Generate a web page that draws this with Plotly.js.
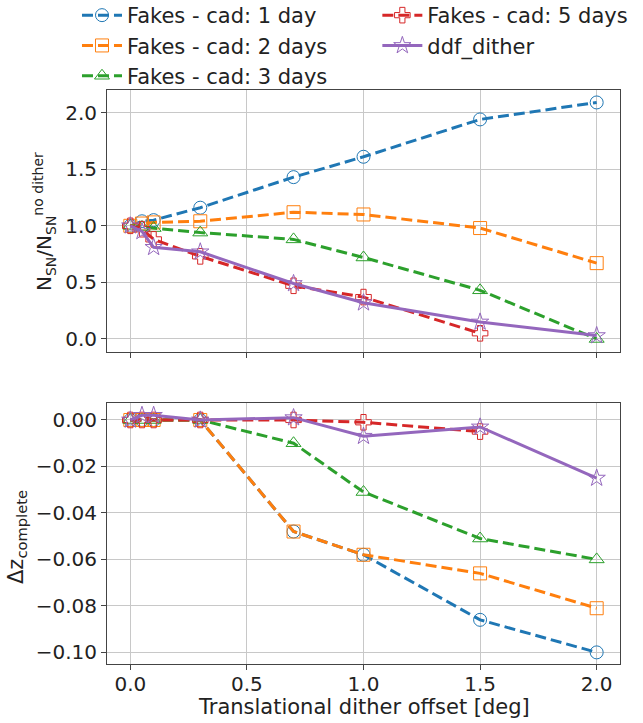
<!DOCTYPE html>
<html>
<head>
<meta charset="utf-8">
<script src="https://cdn.plot.ly/plotly-3.0.1.min.js"></script>
<style>html,body{margin:0;padding:0;background:#fff;}</style>
</head>
<body>
<div id="chart" style="width:643px;height:723px;"></div>
<script>
// Dither offsets [deg]
const xOffsets = [0.0, 0.05, 0.1, 0.3, 0.7, 1.0, 1.5, 2.0];
const xOffsets5 = [0.0, 0.05, 0.1, 0.3, 0.7, 1.0, 1.5];

// Top panel: N_SN / N_SN(no dither)
const nsnCad1 = [1.0, 1.04, 1.05, 1.16, 1.43, 1.61, 1.94, 2.09];
const nsnCad2 = [1.0, 1.02, 1.03, 1.04, 1.12, 1.10, 0.98, 0.67];
const nsnCad3 = [1.0, 0.99, 0.98, 0.94, 0.88, 0.72, 0.43, 0.0];
const nsnCad5 = [1.0, 0.97, 0.88, 0.73, 0.47, 0.37, 0.05];
const nsnDdf  = [1.0, 0.95, 0.81, 0.77, 0.49, 0.32, 0.15, 0.03];

// Bottom panel: Delta z_complete
const dzCad1 = [0.0, 0.0, 0.0, 0.0, -0.048, -0.058, -0.086, -0.100];
const dzCad2 = [0.0, 0.0, 0.0, 0.0, -0.048, -0.058, -0.066, -0.081];
const dzCad3 = [0.0, 0.0, 0.0, 0.0, -0.010, -0.031, -0.051, -0.060];
const dzCad5 = [0.0, 0.0, 0.0, 0.0, 0.0, -0.001, -0.005];
const dzDdf  = [0.0, 0.002, 0.002, 0.0, 0.001, -0.007, -0.003, -0.025];

const names = ["Fakes - cad: 1 day", "Fakes - cad: 2 days", "Fakes - cad: 3 days", "Fakes - cad: 5 days", "ddf_dither"];
const topTickVals = [0.0, 0.5, 1.0, 1.5, 2.0];
const botTickVals = [-0.10, -0.08, -0.06, -0.04, -0.02, 0.0];
const xTickVals = [0.0, 0.5, 1.0, 1.5, 2.0];
const xTitle = "Translational dither offset [deg]";
const topYTitle = "N<sub>SN</sub>/N<sub>SN</sub><sup>no dither</sup>";
const botYTitle = "Δz<sub>complete</sub>";

const colors = ["#1f77b4", "#ff7f0e", "#2ca02c", "#d62728", "#9467bd"];
const symbols = ["circle-open", "square-open", "triangle-up-open", "cross-open", "star-open"];
const dashes = ["11px,5px", "11px,5px", "11px,5px", "11px,5px", "solid"];
const legends = ["legend", "legend", "legend", "legend2", "legend2"];

const topY = [nsnCad1, nsnCad2, nsnCad3, nsnCad5, nsnDdf];
const botY = [dzCad1, dzCad2, dzCad3, dzCad5, dzDdf];
const xs = [xOffsets, xOffsets, xOffsets, xOffsets5, xOffsets];

const traces = [];
for (let i = 0; i < 5; i++) {
  traces.push({
    x: xs[i], y: topY[i], name: names[i], type: "scatter", mode: "lines+markers",
    xaxis: "x2", yaxis: "y2", legend: legends[i],
    line: {color: colors[i], width: 3, dash: dashes[i]},
    marker: {symbol: symbols[i], size: 13, color: colors[i], line: {width: 1, color: colors[i]}}
  });
}
for (let i = 0; i < 5; i++) {
  traces.push({
    x: xs[i], y: botY[i], name: names[i], type: "scatter", mode: "lines+markers",
    xaxis: "x", yaxis: "y", showlegend: false,
    line: {color: colors[i], width: 3, dash: dashes[i]},
    marker: {symbol: symbols[i], size: 13, color: colors[i], line: {width: 1, color: colors[i]}}
  });
}

const axCommon = {
  showline: true, mirror: true, linecolor: "#444", linewidth: 1,
  showgrid: true, gridcolor: "#c8c8c8", gridwidth: 1,
  ticks: "outside", ticklen: 5, tickcolor: "#444", tickwidth: 1,
  zeroline: false, tickfont: {size: 20, color: "#222"}
};

const legCommon = {
  orientation: "v", bgcolor: "rgba(0,0,0,0)", font: {size: 21, color: "#222"},
  itemwidth: 40, tracegroupgap: 0, xref: "paper", yref: "paper",
  xanchor: "left", yanchor: "top", y: 1.1655
};

const layout = {
  width: 643, height: 723,
  margin: {l: 107, r: 23, t: 90, b: 59, autoexpand: false},
  paper_bgcolor: "#fff", plot_bgcolor: "#fff",
  font: {family: "DejaVu Sans, sans-serif", size: 20, color: "#222"},
  xaxis: Object.assign({}, axCommon, {
    anchor: "y", range: [-0.1, 2.1], tickvals: xTickVals, tickformat: ".1f", ticklabelstandoff: -3
  }),
  xaxis2: Object.assign({}, axCommon, {
    anchor: "y2", range: [-0.1, 2.1], tickvals: xTickVals, showticklabels: false, matches: "x"
  }),
  yaxis: Object.assign({}, axCommon, {
    domain: [0, 0.4547], range: [-0.105, 0.0073], tickvals: botTickVals, tickformat: ".2f"
  }),
  yaxis2: Object.assign({}, axCommon, {
    domain: [0.5436, 1], range: [-0.115, 2.2], tickvals: topTickVals, tickformat: ".1f"
  }),
  legend: Object.assign({}, legCommon, {x: -0.0585}),
  legend2: Object.assign({}, legCommon, {x: 0.527}),
  annotations: [
    {text: xTitle, xref: "paper", yref: "paper", x: 0.5, y: -0.0749, xanchor: "center", yanchor: "middle",
     showarrow: false, font: {size: 21, color: "#222"}},
    {text: topYTitle, xref: "paper", yref: "paper", x: -0.1228, y: 0.770, xanchor: "center", yanchor: "middle",
     textangle: -90, showarrow: false, font: {size: 20, color: "#222"}},
    {text: botYTitle, xref: "paper", yref: "paper", x: -0.1754, y: 0.2213, xanchor: "center", yanchor: "middle",
     textangle: -90, showarrow: false, font: {size: 21, color: "#222"}}
  ]
};

Plotly.newPlot("chart", traces, layout, {displayModeBar: false, staticPlot: true});
</script>
</body>
</html>
